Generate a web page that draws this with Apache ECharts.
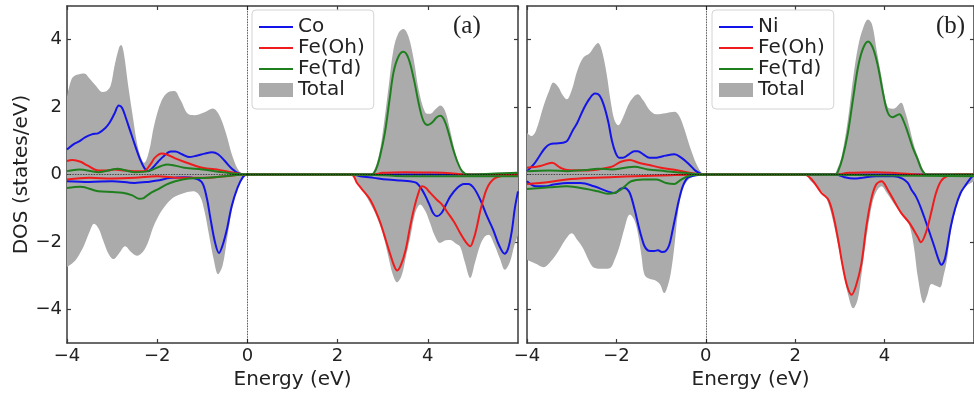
<!DOCTYPE html>
<html><head><meta charset="utf-8">
<script src="https://cdn.jsdelivr.net/npm/echarts@6/dist/echarts.min.js"></script>
<style>html,body{margin:0;padding:0;background:#fff}#c{width:974px;height:396px}</style>
</head><body><div id="c"></div>
<script>
// ---------- Panel (a): Co / Fe(Oh) / Fe(Td) / Total  [energy eV, DOS states/eV]
const aTotalUp = [[-4,2.3],[-3.9,2.83],[-3.8,2.95],[-3.62,3.0],[-3.5,2.85],[-3.36,2.63],[-3.22,2.45],[-3.12,2.48],[-3.03,2.65],[-2.95,3.2],[-2.85,3.75],[-2.8,3.84],[-2.74,3.6],[-2.65,2.7],[-2.55,1.8],[-2.45,0.95],[-2.36,0.5],[-2.29,0.35],[-2.18,0.7],[-2.07,1.45],[-1.9,2.2],[-1.75,2.45],[-1.62,2.48],[-1.48,2.2],[-1.32,1.8],[-1.18,1.76],[-0.95,1.85],[-0.77,1.96],[-0.64,1.8],[-0.48,1.25],[-0.32,0.5],[-0.16,0.06],[0,0],[2.7,0],[2.8,0.1],[2.92,0.6],[3.02,1.44],[3.14,2.7],[3.24,3.72],[3.35,4.2],[3.46,4.32],[3.57,4.1],[3.69,3.4],[3.8,2.5],[3.94,1.85],[4.05,1.8],[4.18,1.95],[4.28,2.05],[4.38,1.9],[4.48,1.4],[4.6,0.7],[4.72,0.2],[4.82,0.02],[5.0,0],[5.3,0.03],[5.6,0.05],[6,0.08]];
const aTotalDn = [[-4,-2.75],[-3.85,-2.6],[-3.73,-2.38],[-3.62,-2.1],[-3.5,-1.7],[-3.4,-1.46],[-3.3,-1.6],[-3.2,-1.95],[-3.08,-2.35],[-2.97,-2.51],[-2.85,-2.35],[-2.71,-2.13],[-2.58,-2.3],[-2.45,-2.41],[-2.32,-2.3],[-2.2,-2.0],[-2.1,-1.6],[-1.98,-1.25],[-1.85,-0.98],[-1.65,-0.69],[-1.4,-0.55],[-1.2,-0.5],[-1.05,-0.65],[-0.95,-1.1],[-0.85,-1.8],[-0.75,-2.5],[-0.65,-2.96],[-0.55,-2.7],[-0.45,-1.9],[-0.35,-1.1],[-0.22,-0.4],[-0.1,-0.08],[0,0],[2.25,0],[2.4,-0.15],[2.55,-0.45],[2.7,-0.8],[2.85,-1.2],[3.0,-1.75],[3.12,-2.4],[3.22,-2.95],[3.32,-3.2],[3.42,-3.0],[3.52,-2.4],[3.62,-1.8],[3.72,-1.15],[3.83,-0.89],[3.95,-1.1],[4.05,-1.44],[4.15,-1.8],[4.27,-2.03],[4.4,-1.95],[4.5,-1.94],[4.62,-2.05],[4.72,-2.15],[4.82,-2.6],[4.94,-3.07],[5.05,-2.6],[5.16,-2.1],[5.26,-1.85],[5.35,-1.79],[5.45,-2.0],[5.6,-2.5],[5.71,-2.83],[5.82,-2.6],[5.92,-2.1],[6,-1.8]];
const aCoUp = [[-4,0.74],[-3.85,0.9],[-3.73,0.98],[-3.6,1.1],[-3.45,1.19],[-3.3,1.23],[-3.15,1.38],[-3.05,1.55],[-2.95,1.8],[-2.85,2.05],[-2.78,1.98],[-2.7,1.7],[-2.6,1.3],[-2.5,0.9],[-2.38,0.45],[-2.28,0.18],[-2.2,0.1],[-2.1,0.2],[-1.98,0.38],[-1.85,0.55],[-1.7,0.68],[-1.6,0.68],[-1.45,0.6],[-1.3,0.52],[-1.15,0.55],[-0.95,0.62],[-0.78,0.66],[-0.65,0.6],[-0.5,0.4],[-0.35,0.18],[-0.2,0.04],[0,0],[6,0]];
const aCoDn = [[-4,-0.2],[-3.5,-0.22],[-3.0,-0.2],[-2.5,-0.25],[-2.2,-0.22],[-2.0,-0.18],[-1.7,-0.1],[-1.4,-0.08],[-1.15,-0.12],[-1.0,-0.25],[-0.9,-0.7],[-0.82,-1.3],[-0.72,-2.0],[-0.63,-2.33],[-0.55,-2.1],[-0.45,-1.6],[-0.35,-0.95],[-0.22,-0.4],[-0.1,-0.08],[0,0],[2.3,0],[2.5,-0.05],[2.8,-0.1],[3.1,-0.15],[3.4,-0.18],[3.6,-0.2],[3.75,-0.25],[3.87,-0.45],[3.97,-0.7],[4.05,-0.94],[4.12,-1.15],[4.2,-1.24],[4.3,-1.15],[4.4,-0.9],[4.5,-0.65],[4.65,-0.4],[4.8,-0.28],[4.9,-0.28],[5.02,-0.4],[5.16,-0.74],[5.3,-1.2],[5.45,-1.64],[5.58,-2.1],[5.7,-2.35],[5.78,-2.2],[5.86,-1.7],[5.93,-1.0],[6,-0.5]];
const aFeOhUp = [[-4,0.4],[-3.88,0.43],[-3.7,0.38],[-3.55,0.27],[-3.3,0.12],[-3.1,0.12],[-2.95,0.15],[-2.75,0.12],[-2.5,0.1],[-2.3,0.1],[-2.15,0.3],[-2.05,0.5],[-1.9,0.62],[-1.8,0.6],[-1.6,0.48],[-1.45,0.4],[-1.2,0.28],[-1.0,0.2],[-0.6,0.13],[-0.3,0.05],[0,0],[2.8,0],[3.0,0.05],[3.5,0.07],[4.0,0.06],[4.5,0.04],[4.8,0],[6,0]];
const aFeOhDn = [[-4,-0.15],[-3.5,-0.1],[-3,-0.12],[-2.5,-0.1],[-2,-0.05],[-1.5,-0.1],[-1,-0.1],[-0.5,-0.05],[0,0],[2.3,0],[2.43,-0.25],[2.58,-0.5],[2.72,-0.74],[2.85,-1.1],[2.95,-1.44],[3.07,-1.95],[3.17,-2.38],[3.25,-2.7],[3.32,-2.85],[3.4,-2.7],[3.51,-2.23],[3.6,-1.6],[3.69,-1.04],[3.78,-0.6],[3.87,-0.35],[3.96,-0.4],[4.05,-0.54],[4.2,-0.75],[4.32,-0.9],[4.42,-1.09],[4.58,-1.4],[4.72,-1.74],[4.84,-2.0],[4.94,-2.13],[5.02,-1.9],[5.09,-1.54],[5.16,-1.1],[5.23,-0.74],[5.3,-0.45],[5.38,-0.25],[5.5,-0.1],[5.7,-0.03],[6,0]];
const aFeTdUp = [[-4,0.1],[-3.73,0.15],[-3.3,0.07],[-2.88,0.17],[-2.5,0.07],[-2.2,0.1],[-1.77,0.3],[-1.4,0.2],[-1.0,0.15],[-0.74,0.1],[-0.3,0.03],[0,0],[2.75,0],[2.85,0.15],[2.95,0.6],[3.05,1.25],[3.15,2.2],[3.24,3.03],[3.35,3.5],[3.46,3.64],[3.57,3.45],[3.69,2.83],[3.8,2.1],[3.9,1.6],[4.0,1.47],[4.1,1.55],[4.2,1.7],[4.28,1.74],[4.37,1.6],[4.46,1.24],[4.55,0.8],[4.65,0.4],[4.76,0.1],[4.9,0],[5.5,0.03],[6,0.05]];
const aFeTdDn = [[-4,-0.4],[-3.7,-0.36],[-3.31,-0.5],[-3.0,-0.52],[-2.77,-0.54],[-2.55,-0.62],[-2.4,-0.72],[-2.3,-0.7],[-2.15,-0.55],[-2.0,-0.45],[-1.8,-0.3],[-1.6,-0.2],[-1.3,-0.12],[-0.9,-0.1],[-0.5,-0.05],[0,0],[2.5,0],[3.5,-0.05],[4.5,-0.05],[6,-0.05]];

// ---------- Panel (b): Ni / Fe(Oh) / Fe(Td) / Total
const bTotalUp = [[-4,1.24],[-3.9,1.14],[-3.8,1.3],[-3.63,2.03],[-3.5,2.5],[-3.41,2.73],[-3.3,2.6],[-3.2,2.35],[-3.11,2.23],[-3.0,2.5],[-2.87,3.1],[-2.74,3.47],[-2.6,3.6],[-2.48,3.82],[-2.41,3.9],[-2.33,3.7],[-2.22,3.0],[-2.12,2.1],[-2.04,1.6],[-1.96,1.46],[-1.85,1.7],[-1.7,2.15],[-1.52,2.38],[-1.4,2.2],[-1.25,1.9],[-1.11,1.79],[-0.9,1.82],[-0.7,1.86],[-0.6,1.75],[-0.48,1.35],[-0.35,0.8],[-0.2,0.28],[-0.08,0.03],[0,0],[2.85,0],[2.95,0.2],[3.04,0.55],[3.18,1.64],[3.3,2.9],[3.41,3.82],[3.52,4.35],[3.63,4.6],[3.72,4.45],[3.82,3.7],[3.93,2.9],[4.07,2.0],[4.2,1.95],[4.37,2.13],[4.45,1.9],[4.55,1.43],[4.65,0.9],[4.74,0.55],[4.88,0.1],[5.0,0],[6,0]];
const bTotalDn = [[-4,-2.53],[-3.8,-2.65],[-3.63,-2.75],[-3.45,-2.55],[-3.3,-2.28],[-3.15,-1.95],[-3.0,-1.74],[-2.87,-1.95],[-2.74,-2.2],[-2.6,-2.6],[-2.52,-2.75],[-2.35,-2.8],[-2.15,-2.78],[-2.03,-2.5],[-1.93,-2.13],[-1.82,-1.6],[-1.7,-1.19],[-1.6,-1.35],[-1.52,-1.74],[-1.44,-2.4],[-1.37,-2.98],[-1.25,-3.1],[-1.15,-3.13],[-1.03,-3.25],[-0.93,-3.52],[-0.85,-3.3],[-0.78,-2.9],[-0.7,-2.1],[-0.63,-1.2],[-0.55,-0.6],[-0.45,-0.25],[-0.3,-0.08],[0,0],[2.2,0],[2.35,-0.2],[2.52,-0.4],[2.65,-0.6],[2.74,-0.85],[2.85,-1.4],[2.96,-2.1],[3.08,-2.9],[3.18,-3.55],[3.3,-3.97],[3.4,-3.7],[3.48,-3.0],[3.58,-2.0],[3.7,-1.0],[3.8,-0.55],[3.93,-0.35],[4.05,-0.55],[4.15,-0.75],[4.3,-1.04],[4.44,-1.3],[4.55,-1.5],[4.65,-2.1],[4.75,-3.1],[4.88,-3.82],[4.95,-3.6],[5.05,-3.25],[5.15,-3.3],[5.24,-3.35],[5.32,-3.0],[5.4,-2.5],[5.48,-1.7],[5.58,-1.1],[5.7,-0.6],[5.82,-0.35],[5.93,-0.25],[6,-0.2]];
const bNiUp = [[-4,0.1],[-3.85,0.3],[-3.72,0.55],[-3.6,0.78],[-3.48,0.9],[-3.35,0.92],[-3.2,0.94],[-3.1,1.0],[-2.98,1.3],[-2.88,1.52],[-2.74,1.93],[-2.6,2.25],[-2.48,2.4],[-2.38,2.35],[-2.28,2.05],[-2.18,1.55],[-2.1,1.0],[-2.02,0.65],[-1.94,0.5],[-1.85,0.5],[-1.72,0.6],[-1.6,0.69],[-1.52,0.69],[-1.4,0.6],[-1.26,0.5],[-1.1,0.5],[-0.9,0.56],[-0.7,0.6],[-0.55,0.5],[-0.37,0.3],[-0.22,0.1],[-0.1,0.02],[0,0],[6,0]];
const bNiDn = [[-4,-0.2],[-3.8,-0.35],[-3.6,-0.35],[-3.4,-0.3],[-3.1,-0.25],[-2.8,-0.25],[-2.5,-0.35],[-2.2,-0.5],[-2.04,-0.55],[-1.9,-0.42],[-1.81,-0.4],[-1.72,-0.5],[-1.66,-0.7],[-1.58,-1.1],[-1.52,-1.44],[-1.44,-1.85],[-1.37,-2.13],[-1.28,-2.26],[-1.15,-2.27],[-1.07,-2.25],[-0.98,-2.3],[-0.9,-2.28],[-0.82,-2.1],[-0.75,-1.7],[-0.68,-1.25],[-0.6,-0.75],[-0.5,-0.3],[-0.38,-0.08],[0,0],[2.9,0],[3.1,-0.08],[3.3,-0.12],[3.5,-0.1],[3.8,-0.05],[4.2,-0.05],[4.4,-0.12],[4.52,-0.25],[4.6,-0.45],[4.7,-0.65],[4.8,-0.95],[4.88,-1.24],[5.0,-1.7],[5.11,-2.13],[5.2,-2.5],[5.27,-2.68],[5.35,-2.5],[5.48,-1.55],[5.58,-1.0],[5.7,-0.55],[5.82,-0.3],[5.93,-0.1],[6,0]];
const bFeOhUp = [[-4,0.2],[-3.7,0.25],[-3.44,0.35],[-3.25,0.2],[-3.1,0.13],[-2.7,0.12],[-2.4,0.15],[-2.2,0.2],[-2.07,0.25],[-1.9,0.38],[-1.7,0.43],[-1.5,0.35],[-1.26,0.28],[-1.0,0.2],[-0.74,0.15],[-0.4,0.06],[0,0],[2.9,0],[3.2,0.05],[3.8,0.07],[4.3,0.04],[4.8,0],[6,0]];
const bFeOhDn = [[-4,-0.28],[-3.5,-0.22],[-3.11,-0.15],[-2.5,-0.1],[-1.8,-0.06],[-1.0,-0.03],[0,0],[2.2,0],[2.37,-0.15],[2.59,-0.55],[2.74,-0.74],[2.85,-1.2],[2.96,-1.93],[3.06,-2.7],[3.16,-3.3],[3.26,-3.57],[3.36,-3.3],[3.48,-2.65],[3.59,-1.56],[3.7,-0.74],[3.81,-0.3],[3.93,-0.2],[4.07,-0.45],[4.22,-0.8],[4.37,-1.14],[4.55,-1.43],[4.74,-1.85],[4.81,-2.01],[4.93,-1.7],[5.04,-1.14],[5.15,-0.55],[5.26,-0.2],[5.4,-0.05],[5.6,0],[6,0]];
const bFeTdUp = [[-4,0.1],[-3.5,0.12],[-3.1,0.1],[-2.7,0.13],[-2.41,0.17],[-2.1,0.15],[-1.8,0.2],[-1.6,0.23],[-1.3,0.15],[-0.9,0.1],[-0.5,0.05],[0,0],[2.9,0],[2.96,0.1],[3.06,0.5],[3.18,1.24],[3.3,2.3],[3.41,3.22],[3.52,3.75],[3.63,3.95],[3.74,3.75],[3.85,3.22],[3.96,2.45],[4.07,1.84],[4.18,1.7],[4.33,1.79],[4.42,1.6],[4.52,1.24],[4.63,0.8],[4.74,0.45],[4.84,0.12],[4.95,0],[6,0]];
const bFeTdDn = [[-4,-0.43],[-3.5,-0.38],[-3.11,-0.35],[-2.7,-0.42],[-2.41,-0.5],[-2.2,-0.57],[-2.05,-0.55],[-1.9,-0.45],[-1.81,-0.35],[-1.67,-0.2],[-1.4,-0.15],[-1.1,-0.15],[-0.89,-0.25],[-0.7,-0.28],[-0.55,-0.15],[-0.35,-0.03],[0,0],[2.5,0],[4,-0.03],[6,-0.05]];

const xTicks = [-4, -2, 0, 2, 4, 6];
const yTicks = [-4, -2, 0, 2, 4];
const legendA = ['Co', 'Fe(Oh)', 'Fe(Td)', 'Total'];
const legendB = ['Ni', 'Fe(Oh)', 'Fe(Td)', 'Total'];
const panelTags = ['(a)', '(b)'];

const C = {blue:'#1414e8', red:'#ee1c1c', green:'#1f7f1f', gray:'#ababab', axis:'#3a3a3a', text:'#222'};
const FONT = 'DejaVu Sans';
const fmt = v => (v < 0 ? '\u2212' + Math.abs(v) : String(v));
// thin-line legend glyph: invisible corner points keep a 34x14 box, the bar is 2px high
const LINE_ICON = 'path://M0,0L0,0M34,14L34,14M0,6L34,6L34,8L0,8Z';

function xAx(gi, bottom) {
  return {
    type:'value', gridIndex:gi, min:-4, max:6, interval:2, position: bottom ? 'bottom' : 'top',
    axisLine:{show:true, onZero:false, lineStyle:{color:C.axis, width:1.5}},
    axisTick:{show:true, inside:true, length:4, lineStyle:{color:C.axis, width:1.2}},
    splitLine:{show:false},
    axisLabel:{show:bottom, formatter:fmt, fontFamily:FONT, fontSize:18, color:C.text, margin:4, showMaxLabel:false},
    name: bottom ? 'Energy (eV)' : '', nameLocation:'middle', nameGap:21,
    nameTextStyle:{fontFamily:FONT, fontSize:20, color:C.text}
  };
}
function yAx(gi, left, labels) {
  return {
    type:'value', gridIndex:gi, min:-5, max:5, position: left ? 'left' : 'right',
    axisLine:{show:true, onZero:false, lineStyle:{color:C.axis, width:1.5}},
    axisTick:{show:true, inside:true, length:4, customValues:yTicks, lineStyle:{color:C.axis, width:1.2}},
    splitLine:{show:false},
    axisLabel:{show:labels, customValues:yTicks, formatter:fmt, fontFamily:FONT, fontSize:18, color:C.text, margin:5},
    name: labels ? 'DOS (states/eV)' : '', nameLocation:'middle', nameGap:30,
    nameTextStyle:{fontFamily:FONT, fontSize:20, color:C.text}
  };
}
function ser(name, data, color, gi, area, extra) {
  const s = {
    type:'line', name, data, xAxisIndex: gi*2, yAxisIndex: gi*2, symbol:'none', smooth:0.35,
    lineStyle:{color, width: area ? 0 : 2}, itemStyle:{color}, silent:true
  };
  if (area) s.areaStyle = {color, opacity:1, origin:0};
  return Object.assign(s, extra || {});
}
const zeroLines = {
  silent:true, symbol:'none', label:{show:false},
  lineStyle:{color:'#000', width:0.8, type:'dotted'},
  data:[{xAxis:0}, {yAxis:0}]
};
function panel(gi, tu, td, mName, mu, md, ohu, ohd, tdu, tdd) {
  return [
    ser('Total', tu, C.gray, gi, true, {markLine: zeroLines}),
    ser('Total', td, C.gray, gi, true),
    ser(mName, mu, C.blue, gi, false),
    ser(mName, md, C.blue, gi, false),
    ser('Fe(Oh)', ohu, C.red, gi, false),
    ser('Fe(Oh)', ohd, C.red, gi, false),
    ser('Fe(Td)', tdu, C.green, gi, false),
    ser('Fe(Td)', tdd, C.green, gi, false)
  ];
}
const legendColor = {Co:C.blue, Ni:C.blue, 'Fe(Oh)':C.red, 'Fe(Td)':C.green, Total:C.gray};
function legend(names, left) {
  return {
    orient:'vertical', left, top:10, itemGap:1, itemWidth:34, itemHeight:14,
    padding:[7, 9, 9, 7], borderColor:'#d4d4d4', borderWidth:1, borderRadius:4, backgroundColor:'#fff',
    selectedMode:false,
    textStyle:{fontFamily:FONT, fontSize:20, color:C.text, lineHeight:20},
    data: names.map(n => ({
      name:n,
      icon: n === 'Total' ? 'rect' : LINE_ICON,
      itemStyle:{color:legendColor[n], borderWidth:0},
      symbolKeepAspect:false
    }))
  };
}

const chart = echarts.init(document.getElementById('c'), null, {renderer:'canvas'});
chart.setOption({
  animation:false,
  backgroundColor:'#fff',
  grid:[
    {left:67, top:6, width:451, height:337},
    {left:527, top:6, width:450, height:337}
  ],
  xAxis:[xAx(0,true), xAx(0,false), xAx(1,true), xAx(1,false)],
  yAxis:[yAx(0,true,true), yAx(0,false,false), yAx(1,true,false), yAx(1,false,false)],
  legend:[legend(legendA, 252), legend(legendB, 712)],
  graphic:[
    {type:'text', left:453, top:14, style:{text:panelTags[0], font:'25px "Liberation Serif"', fill:C.text}},
    {type:'text', left:936, top:14, style:{text:panelTags[1], font:'25px "Liberation Serif"', fill:C.text}}
  ],
  series:[
    ...panel(0, aTotalUp, aTotalDn, 'Co', aCoUp, aCoDn, aFeOhUp, aFeOhDn, aFeTdUp, aFeTdDn),
    ...panel(1, bTotalUp, bTotalDn, 'Ni', bNiUp, bNiDn, bFeOhUp, bFeOhDn, bFeTdUp, bFeTdDn)
  ]
});
</script></body></html>
